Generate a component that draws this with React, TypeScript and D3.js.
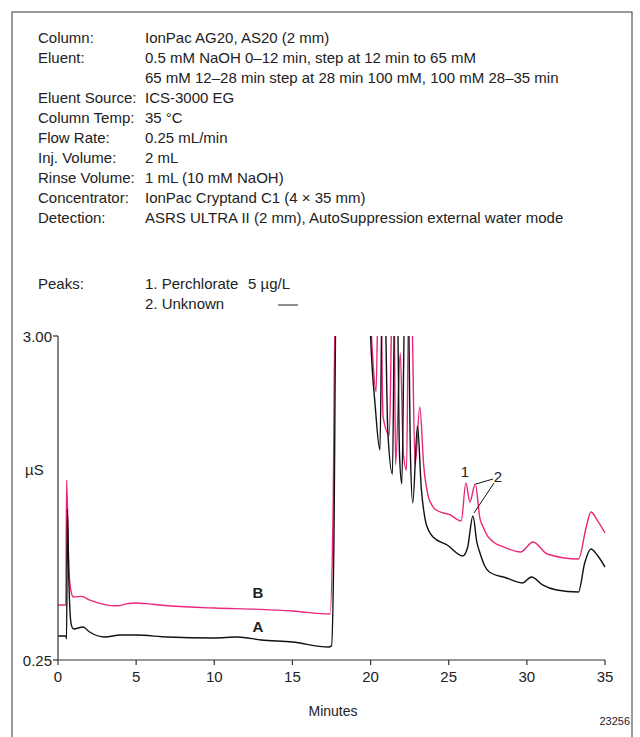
import React from "react";
import * as d3 from "d3";

// [minutes, µS]; values above 3 are off scale and clipped
const traceA: [number, number][] = [
  [0, 0.454], [0.5, 0.454], [0.55, 0.43], [0.6, 1.53], [0.7, 0.9], [0.85, 0.55], [1.0, 0.513], [1.6, 0.53],
  [2, 0.49], [3, 0.445], [4, 0.462], [5, 0.462], [7, 0.445], [10, 0.437], [11.5, 0.445], [13, 0.42],
  [15, 0.403], [17.3, 0.36], [17.5, 0.37], [17.65, 1.2], [17.8, 3.4], [19.9, 3.4], [20.0, 3.0], [20.3, 2.4],
  [20.6, 2.033], [20.75, 3.4], [20.9, 3.4], [21.1, 2.2], [21.4, 1.829], [21.55, 3.4], [21.7, 3.4], [21.85, 2.0],
  [22.0, 1.744], [22.2, 3.4], [22.4, 3.4], [22.55, 2.0], [22.7, 1.583], [23.0, 2.236], [23.25, 1.7], [23.5, 1.438],
  [23.75, 1.34], [24.0, 1.294], [24.9, 1.226], [25.9, 1.133], [26.2, 1.2], [26.55, 1.472], [26.8, 1.25],
  [27.0, 1.158], [27.3, 1.05], [27.6, 0.997], [28.7, 0.946], [29.7, 0.904], [30.3, 0.955], [31.0, 0.887],
  [31.9, 0.844], [33.3, 0.827], [33.7, 1.073], [34.1, 1.192], [34.5, 1.141], [35, 1.039],
];
const traceB: [number, number][] = [
  [0, 0.717], [0.5, 0.717], [0.55, 1.778], [0.7, 1.0], [0.9, 0.8], [1.0, 0.785], [1.5, 0.79], [2, 0.76],
  [3, 0.72], [3.8, 0.71], [4.5, 0.73], [5, 0.734], [7, 0.71], [10, 0.691], [13, 0.68], [15, 0.666],
  [17.4, 0.64], [17.6, 1.5], [17.75, 3.4], [19.9, 3.4], [20.1, 2.9], [20.35, 2.525], [20.5, 3.4], [20.65, 3.4],
  [20.8, 2.313], [21.2, 2.16], [21.4, 3.4], [21.5, 3.4], [21.6, 1.905], [21.9, 2.856], [22.1, 2.0], [22.3, 1.863],
  [22.45, 3.4], [22.6, 3.4], [22.85, 1.905], [23.15, 2.398], [23.4, 1.9], [23.7, 1.634], [24.0, 1.55],
  [24.2, 1.523], [25.1, 1.481], [25.8, 1.43], [26.1, 1.753], [26.35, 1.591], [26.7, 1.744], [27.0, 1.45],
  [27.2, 1.379], [27.5, 1.3], [27.85, 1.252], [28.5, 1.21], [29.6, 1.167], [30.4, 1.252], [31.3, 1.15],
  [33.3, 1.107], [33.8, 1.379], [34.1, 1.506], [34.5, 1.438], [35, 1.328],
];
const xTicks = [0, 5, 10, 15, 20, 25, 30, 35];
const yTicks = [0.25, 3.0];
const conditions: [string, string][] = [
  ["Column:", "IonPac AG20, AS20 (2 mm)"],
  ["Eluent:", "0.5 mM NaOH 0–12 min, step at 12 min to 65 mM"],
  ["", "65 mM 12–28 min step at 28 min 100 mM, 100 mM 28–35 min"],
  ["Eluent Source:", "ICS-3000 EG"],
  ["Column Temp:", "35 °C"],
  ["Flow Rate:", "0.25 mL/min"],
  ["Inj. Volume:", "2 mL"],
  ["Rinse Volume:", "1 mL (10 mM NaOH)"],
  ["Concentrator:", "IonPac Cryptand C1 (4 × 35 mm)"],
  ["Detection:", "ASRS ULTRA II (2 mm), AutoSuppression external water mode"],
];

const font = "'Liberation Sans', Arial, sans-serif";

export default function App() {
  const x = d3.scaleLinear().domain([0, 35]).range([58, 605]);
  const y = d3.scaleLinear().domain([0.25, 3.0]).range([660, 336]);
  const line = d3
    .line<[number, number]>()
    .x((d) => x(d[0]))
    .y((d) => y(d[1]))
    .curve(d3.curveMonotoneX);

  return (
    <svg width={640} height={737} style={{ position: "absolute", left: 0, top: 0, fontFamily: font }}>
      <defs>
        <clipPath id="plot">
          <rect x={x(0)} y={y(3.0)} width={x(35) - x(0) + 5} height={y(0.25) - y(3.0)} />
        </clipPath>
      </defs>
      <rect x={12} y={12} width={620} height={740} fill="none" stroke="#555" strokeWidth={1.2} />
      <g fontSize={15} fill="#222">
        {conditions.map((c, i) => (
          <g key={i}>
            <text x={38} y={43 + i * 20}>{c[0]}</text>
            <text x={145} y={43 + i * 20}>{c[1]}</text>
          </g>
        ))}
        <text x={38} y={289}>Peaks:</text>
        <text x={145} y={289}>1. Perchlorate</text>
        <text x={248} y={289}>5 µg/L</text>
        <text x={145} y={309}>2. Unknown</text>
        <line x1={278} x2={298} y1={305} y2={305} stroke="#222" />
      </g>
      <g clipPath="url(#plot)" fill="none" strokeWidth={1.4}>
        <path d={line(traceB)!} stroke="#e8287a" />
        <path d={line(traceA)!} stroke="#111" />
      </g>
      <g stroke="#333" strokeWidth={1.2}>
        <line x1={x(0)} x2={x(0)} y1={y(3.0)} y2={y(0.25)} />
        <line x1={x(0)} x2={x(35)} y1={y(0.25)} y2={y(0.25)} />
        {xTicks.map((t) => (
          <line key={t} x1={x(t)} x2={x(t)} y1={y(0.25)} y2={y(0.25) + 5} />
        ))}
        {yTicks.map((t) => (
          <line key={t} x1={x(0) - 5} x2={x(0)} y1={y(t)} y2={y(t)} />
        ))}
      </g>
      <g fontSize={15} fill="#222">
        {xTicks.map((t) => (
          <text key={t} x={x(t)} y={y(0.25) + 22} textAnchor="middle">{t}</text>
        ))}
        {yTicks.map((t) => (
          <text key={t} x={x(0) - 6} y={y(t) + 6} textAnchor="end">{t.toFixed(2)}</text>
        ))}
        <text x={25} y={475}>µS</text>
        <text x={333} y={716} textAnchor="middle" fontSize={14}>Minutes</text>
        <text x={630} y={725} textAnchor="end" fontSize={11}>23256</text>
        <text x={258} y={598} fontWeight="bold" textAnchor="middle">B</text>
        <text x={258} y={632} fontWeight="bold" textAnchor="middle">A</text>
        <text x={465} y={477} textAnchor="middle">1</text>
        <text x={498} y={482} textAnchor="middle">2</text>
      </g>
      <g stroke="#111" strokeWidth={1}>
        <line x1={493} y1={479} x2={476} y2={484} />
        <line x1={494} y1={483} x2={474} y2={513} />
      </g>
    </svg>
  );
}
